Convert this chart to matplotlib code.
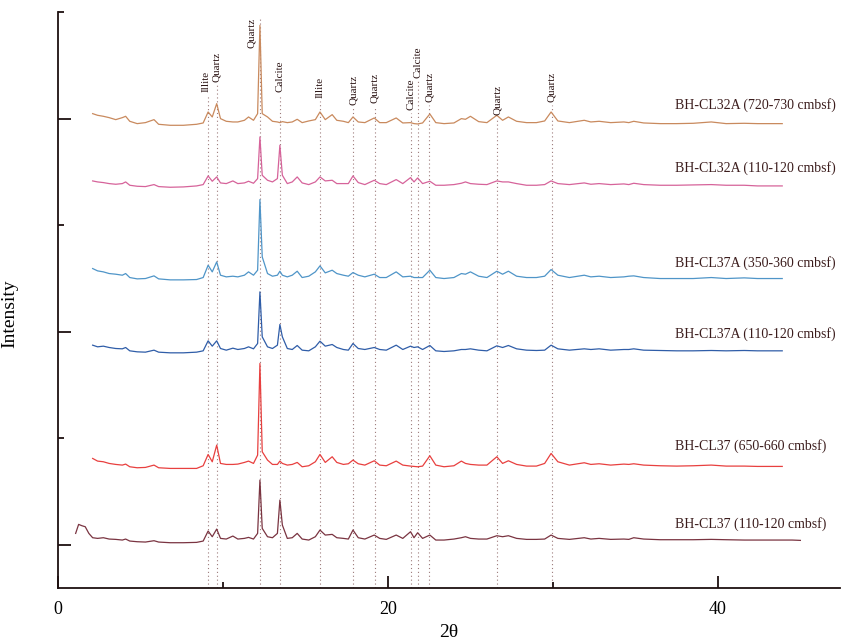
import matplotlib
matplotlib.use("Agg")
import matplotlib.pyplot as plt
import numpy as np

plt.rcParams["font.family"] = ["Liberation Serif", "DejaVu Serif"]

# 2-theta positions shared by the scans (degrees)
two_theta = [
    2.1, 2.4, 2.75, 3.1, 3.5, 3.9, 4.1, 4.35, 4.8, 5.3,
    5.82, 6.1, 6.8, 7.6, 8.4, 8.8, 9.1, 9.35, 9.62, 9.85,
    10.2, 10.6, 10.9, 11.3, 11.55, 11.85, 12.1, 12.24, 12.38, 12.7,
    13.0, 13.3, 13.45, 13.6, 13.9, 14.2, 14.5, 14.8, 15.2, 15.6,
    15.88, 16.2, 16.62, 16.9, 17.3, 17.6, 17.88, 18.2, 18.6, 19.17,
    19.5, 19.9, 20.5, 20.9, 21.37, 21.58, 21.8, 22.1, 22.54, 22.9,
    23.4, 24.0, 24.45, 24.7, 25.0, 25.5, 26.0, 26.6, 26.95, 27.3,
    27.8, 28.4, 29.0, 29.5, 29.89, 30.3, 31.0, 31.9, 32.3, 32.8,
    33.5, 34.3, 34.6, 34.9, 35.5, 36.5, 37.5, 38.5, 39.6, 40.5,
    41.6, 42.4, 43.2, 43.9,
]
# the BH-CL37 110-120 scan was run over a slightly wider range
lead_theta = [1.07, 1.25, 1.45, 1.65, 1.87]
tail_theta = [44.5, 45.0]

# intensities (counts above each scan's baseline)
cl32a_720 = [
    40, 35, 32, 28, 22, 28, 32, 17, 10, 13,
    22, 8, 5, 5, 8, 12, 45, 30, 70, 25,
    17, 15, 15, 20, 30, 20, 40, 305, 40, 30,
    17, 15, 13, 16, 13, 15, 23, 13, 18, 22,
    45, 22, 37, 20, 17, 13, 30, 15, 13, 27,
    13, 13, 27, 12, 13, 10, 9, 12, 39, 13,
    10, 12, 25, 23, 32, 16, 13, 35, 20, 30,
    17, 13, 13, 18, 45, 18, 13, 20, 15, 17,
    13, 15, 13, 17, 12, 10, 10, 11, 15, 10,
    11, 10, 10, 10,
]
cl32a_110 = [
    23, 20, 18, 15, 13, 15, 20, 10, 7, 6,
    12, 6, 4, 5, 8, 12, 38, 22, 35, 17,
    15, 23, 15, 17, 22, 16, 30, 155, 40, 25,
    20, 30, 130, 40, 15, 20, 35, 17, 12, 20,
    35, 23, 25, 15, 15, 15, 38, 18, 12, 25,
    15, 12, 27, 15, 33, 20, 32, 15, 22, 10,
    10, 12, 16, 20, 15, 13, 12, 23, 20, 20,
    15, 10, 10, 12, 23, 15, 12, 17, 13, 15,
    12, 14, 12, 16, 12, 10, 10, 11, 12, 10,
    10, 8, 8, 8,
]
cl37a_350 = [
    40, 33, 30, 25, 23, 20, 25, 13, 9, 10,
    18, 9, 6, 6, 7, 13, 50, 30, 60, 20,
    15, 17, 15, 20, 30, 20, 35, 247, 75, 25,
    17, 20, 32, 20, 15, 20, 32, 13, 17, 30,
    48, 27, 35, 25, 20, 17, 28, 20, 15, 23,
    13, 13, 30, 15, 17, 13, 13, 13, 35, 13,
    10, 13, 25, 23, 30, 17, 13, 32, 23, 32,
    17, 13, 13, 17, 37, 20, 13, 20, 15, 17,
    13, 15, 17, 18, 13, 10, 10, 10, 13, 10,
    12, 10, 10, 10,
]
cl37a_110 = [
    30, 25, 27, 23, 20, 19, 23, 13, 10, 9,
    15, 9, 7, 7, 9, 13, 43, 27, 43, 20,
    15, 21, 17, 20, 25, 19, 35, 190, 55, 25,
    20, 30, 92, 55, 20, 17, 29, 15, 13, 25,
    42, 27, 32, 23, 17, 15, 35, 20, 17, 23,
    17, 15, 30, 17, 27, 23, 25, 17, 29, 13,
    11, 13, 17, 17, 19, 15, 13, 28, 23, 29,
    19, 15, 14, 15, 30, 19, 15, 19, 17, 19,
    15, 17, 17, 19, 15, 14, 13, 13, 14, 13,
    14, 13, 13, 13,
]
cl37_650 = [
    35, 27, 25, 20, 17, 15, 18, 10, 7, 8,
    15, 7, 5, 5, 5, 13, 47, 25, 75, 20,
    17, 17, 18, 23, 27, 20, 45, 320, 55, 30,
    17, 17, 27, 20, 15, 17, 23, 10, 13, 25,
    47, 23, 40, 23, 17, 19, 30, 19, 15, 28,
    15, 13, 27, 15, 12, 11, 10, 12, 43, 15,
    10, 13, 27, 20, 17, 15, 15, 40, 20, 28,
    17, 12, 12, 20, 50, 25, 15, 22, 17, 19,
    15, 18, 17, 19, 15, 13, 12, 13, 15, 12,
    12, 11, 11, 11,
]
cl37_110_lead = [35, 62, 58, 55, 35]
cl37_110 = [
    22, 20, 22, 18, 17, 15, 18, 12, 10, 9,
    13, 9, 7, 7, 8, 12, 42, 25, 48, 20,
    18, 27, 18, 20, 23, 18, 35, 195, 50, 25,
    22, 35, 135, 60, 20, 22, 35, 18, 15, 25,
    45, 30, 32, 22, 20, 18, 45, 22, 18, 30,
    20, 17, 30, 20, 40, 22, 37, 20, 30, 15,
    15, 18, 22, 25, 20, 18, 18, 28, 25, 28,
    20, 17, 17, 18, 30, 20, 17, 22, 18, 20,
    17, 18, 17, 22, 18, 16, 16, 16, 17, 16,
    15, 15, 15, 15,
]
cl37_110_tail = [15, 14]

samples = [
    "BH-CL32A (720-730 cmbsf)",
    "BH-CL32A (110-120 cmbsf)",
    "BH-CL37A (350-360 cmbsf)",
    "BH-CL37A (110-120 cmbsf)",
    "BH-CL37 (650-660 cmbsf)",
    "BH-CL37 (110-120 cmbsf)",
]
offsets = [1255, 1070, 790, 570, 225, 0]
colors = ["#c98a5e", "#d6639a", "#4f95c8", "#2f5da8", "#e8403f", "#7a3441"]
label_y = [1320, 1131, 846, 633, 297, 63]

# identified reflections
minerals = ["Illite", "Quartz", "Quartz", "Calcite", "Illite", "Quartz",
            "Quartz", "Calcite", "Calcite", "Quartz", "Quartz", "Quartz"]
peak_pos = [9.11, 9.62, 12.24, 13.45, 15.88, 17.9,
            19.21, 21.39, 21.8, 22.5, 26.62, 29.92]
mineral_label_x = [9.0, 9.62, 11.74, 13.45, 15.88, 17.9,
                   19.21, 21.39, 21.8, 22.5, 26.62, 29.92]
mineral_label_y = [1359, 1389, 1491, 1359, 1341, 1320,
                   1326, 1305, 1401, 1329, 1290, 1329]
line_top = [1352, 1382, 1581, 1352, 1334, 1313,
            1319, 1298, 1394, 1322, 1283, 1322]

fig = plt.figure(figsize=(8.43, 6.43), dpi=100)
ax = fig.add_axes([0.0688, 0.0855, 0.9276, 0.8958])
ax.set_xlim(0, 47.4)
ax.set_ylim(-129, 1600)

scans = [
    (two_theta, cl32a_720),
    (two_theta, cl32a_110),
    (two_theta, cl37a_350),
    (two_theta, cl37a_110),
    (two_theta, cl37_650),
    (lead_theta + two_theta + tail_theta, cl37_110_lead + cl37_110 + cl37_110_tail),
]

ybottom = ax.get_ylim()[0]
ax.vlines(peak_pos, ybottom, line_top, colors="#9c7a7a", linewidth=0.8,
          linestyles=(0, (1, 2.5)), zorder=1)
for name, x, y in zip(minerals, mineral_label_x, mineral_label_y):
    ax.text(x, y, name, rotation=90, ha="center", va="bottom", fontsize=8,
            color="#2b1414")

for (x, inten), off, col, name, ly in zip(scans, offsets, colors, samples, label_y):
    ax.plot(x, np.array(inten) + off, color=col, linewidth=0.9, zorder=2)
    ax.text(37.4, ly, name, fontsize=10, ha="left", va="center", color="#3b1c1c")

for side in ["top", "right"]:
    ax.spines[side].set_visible(False)
for side in ["left", "bottom"]:
    ax.spines[side].set_linewidth(1.3)
    ax.spines[side].set_color("#1e1010")

ax.set_xticks([0, 20, 40])
ax.set_xticks([10, 30], minor=True)
ax.set_yticks([0, 640, 1280])
ax.set_yticks([320, 960, 1600], minor=True)
ax.set_yticklabels([])
ax.tick_params(which="major", direction="in", length=9, width=1.3,
               color="#1e1010", labelsize=13, pad=9)
ax.tick_params(which="minor", direction="in", length=4.5, width=1.3,
               color="#1e1010")

ax.set_xlabel("2θ", fontsize=14)
ax.set_ylabel("Intensity", fontsize=14)
ax.xaxis.set_label_coords(0.5, -0.062)
ax.yaxis.set_label_coords(-0.051, 0.476)

fig.savefig("out.png", dpi=100)
